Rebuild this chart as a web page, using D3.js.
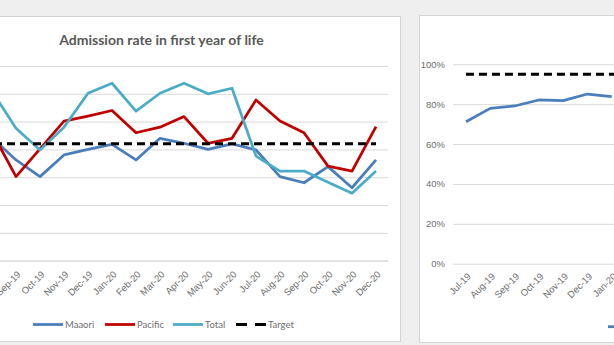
<!DOCTYPE html>
<html>
<head>
<meta charset="utf-8">
<script src="https://cdn.jsdelivr.net/npm/d3@7"></script>
<style>
  html, body { margin: 0; padding: 0; background: #efefef; }
  svg { display: block; font-family: Lato, "Open Sans", sans-serif; }
</style>
</head>
<body>
<svg id="chart" width="614" height="345"></svg>
<script>
// Months shared by both panels
const months = ["Jul-19","Aug-19","Sep-19","Oct-19","Nov-19","Dec-19","Jan-20","Feb-20","Mar-20",
  "Apr-20","May-20","Jun-20","Jul-20","Aug-20","Sep-20","Oct-20","Nov-20","Dec-20"];

// Admission rate in first year of life (per 100 births)
const maaori  = [20.0, 22.1, 18.1, 15.1, 19.0, 20.0, 20.9, 18.1, 22.0, 21.1, 20.0, 21.0, 19.9, 15.1, 14.0, 16.9, 13.1, 18.1];
const pacific = [25.0, 23.1, 15.1, 20.1, 25.1, 26.0, 27.0, 23.0, 24.0, 25.9, 21.1, 22.0, 28.9, 25.1, 23.0, 17.0, 16.1, 24.1];
const total   = [29.0, 30.5, 23.8, 19.9, 24.0, 30.1, 31.9, 26.9, 30.1, 31.9, 30.0, 31.0, 18.8, 16.1, 16.1, 14.1, 12.1, 16.1];
const admissionTarget = 21;
const admissionTicks = [0, 5, 10, 15, 20, 25, 30, 35];

// Coverage series (second panel)
const coverage = [0.712, 0.779, 0.791, 0.821, 0.818, 0.851, 0.838];
const coverageTarget = 0.95;
const coverageTicks = [0, 0.2, 0.4, 0.6, 0.8, 1.0];

const colors = { Maaori: "#4a7ebb", Pacific: "#c00000", Total: "#4bacc6", Target: "#000000", Coverage: "#4a7ebb" };
const gridColor = "#d9d9d9";
const titleColor = "#595959";
const tickColor = "#6e6e6e";

const svg = d3.select("#chart");

// Panel backgrounds
svg.append("rect").attr("x", -10).attr("y", 16.5).attr("width", 410.5).attr("height", 325)
  .attr("fill", "#fff").attr("stroke", "#d4d4d4");
svg.append("rect").attr("x", 419.5).attr("y", 15.5).attr("width", 320).attr("height", 327)
  .attr("fill", "#fff").attr("stroke", "#d4d4d4");

// ---------- Left panel: admission rate ----------
const xL = d3.scaleBand().domain(months).range([-44, 388]);
const yL = d3.scaleLinear().domain([0, 35]).range([260.6, 66]);
const cx = (scale, m) => scale(m) + scale.bandwidth() / 2;

const left = svg.append("g");

// horizontal gridlines
left.append("g").attr("transform", "translate(-44,0)")
  .call(d3.axisLeft(yL).tickValues(admissionTicks).tickSize(-432))
  .call(g => g.select(".domain").remove())
  .call(g => g.selectAll("line").attr("stroke", gridColor))
  .call(g => g.selectAll("text").remove());

left.append("g").attr("transform", "translate(0,260.6)")
  .call(d3.axisBottom(xL).tickSize(0).tickPadding(0))
  .call(g => g.select(".domain").attr("stroke", gridColor))
  .call(g => g.selectAll("text")
    .attr("fill", tickColor).attr("font-size", 9.5)
    .attr("text-anchor", "end")
    .attr("transform", d => `translate(${xL.bandwidth() / 2 - 9},${12}) rotate(-45)`)
    .attr("dy", "0.35em").attr("y", 0).attr("x", 0));

left.append("text").attr("x", 161.5).attr("y", 45).attr("text-anchor", "middle")
  .attr("font-size", 14).attr("font-weight", "bold").attr("fill", titleColor)
  .text("Admission rate in first year of life");

const lineL = d3.line().x((d, i) => cx(xL, months[i])).y(d => yL(d));
[["Maaori", maaori], ["Pacific", pacific], ["Total", total]].forEach(([name, vals]) => {
  left.append("path").datum(vals).attr("d", lineL).attr("fill", "none")
    .attr("stroke", colors[name]).attr("stroke-width", 2.75).attr("stroke-linejoin", "round");
});
left.append("path").datum(months.map(() => admissionTarget)).attr("d", lineL)
  .attr("fill", "none").attr("stroke", colors.Target).attr("stroke-width", 3)
  .attr("stroke-dasharray", "8,5");

// Legend
const legendL = [
  { name: "Maaori", x: 33 }, { name: "Pacific", x: 105 },
  { name: "Total", x: 173 }, { name: "Target", x: 236 }
];
const lg = left.append("g").attr("transform", "translate(0,324.5)");
legendL.forEach(item => {
  const isTarget = item.name === "Target";
  lg.append("line").attr("x1", item.x).attr("x2", item.x + 30).attr("y1", 0).attr("y2", 0)
    .attr("stroke", colors[item.name]).attr("stroke-width", isTarget ? 3 : 2.75)
    .attr("stroke-dasharray", isTarget ? "11,8" : null);
  lg.append("text").attr("x", item.x + 32).attr("y", 0).attr("dy", "0.35em")
    .attr("font-size", 9.5).attr("fill", tickColor).text(item.name);
});

// ---------- Right panel: coverage ----------
const xR = d3.scaleBand().domain(months).range([453.8, 453.8 + 18 * 24.3]);
const yR = d3.scaleLinear().domain([0, 1]).range([263.7, 64.3]);
const right = svg.append("g");

right.append("g").attr("transform", "translate(453,0)")
  .call(d3.axisLeft(yR).tickValues(coverageTicks).tickSize(-440).tickPadding(8).tickFormat(d3.format(".0%")))
  .call(g => g.select(".domain").remove())
  .call(g => g.selectAll("line").attr("stroke", gridColor))
  .call(g => g.selectAll("text").attr("fill", tickColor).attr("font-size", 9.5));

right.append("g").attr("transform", "translate(0,263.7)")
  .call(d3.axisBottom(xR).tickSize(0).tickPadding(0))
  .call(g => g.select(".domain").remove())
  .call(g => g.selectAll("text")
    .attr("fill", tickColor).attr("font-size", 9.5)
    .attr("text-anchor", "end")
    .attr("transform", d => `translate(${xR.bandwidth() / 2 - 9},${11}) rotate(-45)`)
    .attr("dy", "0.35em").attr("y", 0).attr("x", 0));

const lineR = d3.line().x((d, i) => cx(xR, months[i])).y(d => yR(d));
right.append("path").datum(months.map(() => coverageTarget)).attr("d", lineR)
  .attr("fill", "none").attr("stroke", colors.Target).attr("stroke-width", 3)
  .attr("stroke-dasharray", "8,5");
right.append("path").datum(coverage).attr("d", lineR).attr("fill", "none")
  .attr("stroke", colors.Coverage).attr("stroke-width", 2.75).attr("stroke-linejoin", "round");

const lgR = right.append("g").attr("transform", "translate(608,326.7)");
lgR.append("line").attr("x1", 0).attr("x2", 30).attr("stroke", colors.Coverage).attr("stroke-width", 2.75);
lgR.append("text").attr("x", 32).attr("dy", "0.35em").attr("font-size", 9.5).attr("fill", tickColor).text("Coverage");
</script>
</body>
</html>
